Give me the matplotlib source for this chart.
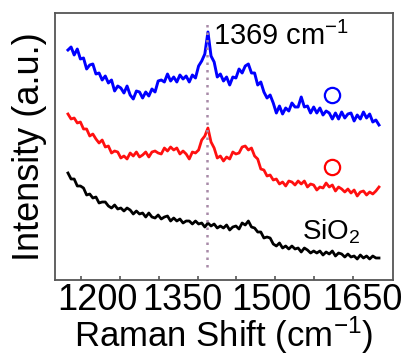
import numpy as np
import matplotlib
matplotlib.use("Agg")
import matplotlib.pyplot as plt
from matplotlib.transforms import ScaledTranslation

plt.rcParams['font.family'] = ['Liberation Sans', 'DejaVu Sans']
plt.rcParams['mathtext.fontset'] = 'custom'
plt.rcParams['mathtext.rm'] = 'Liberation Sans'
plt.rcParams['mathtext.it'] = 'Liberation Sans'
plt.rcParams['mathtext.default'] = 'regular'

# Raman shift sampling (cm-1)
shift = np.arange(1100, 1701, 6)

blue = [230, 233, 225, 231, 221, 222, 211, 215, 216, 206,
        207, 200, 204, 197, 200, 189, 194, 192, 187, 194,
        185, 181, 189, 188, 182, 188, 184, 191, 188, 199,
        200, 198, 206, 199, 203, 198, 205, 201, 204, 198,
        205, 202, 214, 219, 226, 248, 224, 218, 203, 206,
        199, 203, 195, 203, 202, 211, 207, 214, 216, 207,
        207, 195, 198, 188, 182, 185, 177, 167, 174, 166,
        172, 169, 177, 173, 173, 183, 173, 174, 167, 173,
        167, 172, 165, 169, 167, 161, 167, 161, 168, 162,
        166, 167, 159, 165, 161, 168, 162, 166, 158, 160,
        155]

red = [166, 161, 162, 157, 158, 151, 151, 144, 146, 141,
       137, 140, 133, 134, 127, 129, 128, 122, 124, 121,
       127, 124, 128, 123, 125, 128, 123, 128, 129, 127,
       126, 132, 129, 133, 130, 132, 126, 129, 126, 121,
       128, 127, 130, 140, 144, 152, 138, 132, 122, 124,
       119, 123, 121, 128, 126, 127, 133, 134, 130, 132,
       124, 121, 111, 110, 104, 105, 100, 101, 96, 98,
       94, 99, 98, 95, 99, 96, 99, 93, 96, 95,
       90, 93, 92, 97, 93, 95, 89, 93, 91, 88,
       91, 87, 90, 84, 88, 89, 85, 88, 86, 89,
       93]

black = [107, 101, 101, 94, 94, 92, 85, 86, 82, 83,
         77, 78, 78, 74, 72, 75, 71, 72, 69, 72,
         70, 66, 69, 66, 67, 63, 67, 63, 62, 65,
         61, 63, 64, 59, 62, 59, 61, 57, 59, 59,
         56, 59, 56, 57, 53, 57, 54, 56, 52, 54,
         52, 55, 50, 53, 54, 51, 57, 55, 59, 53,
         52, 48, 48, 42, 43, 42, 36, 34, 37, 32,
         34, 31, 34, 31, 32, 28, 32, 30, 27, 29,
         27, 29, 25, 28, 26, 29, 24, 27, 26, 23,
         26, 23, 24, 21, 25, 22, 24, 21, 24, 22,
         22]

peak_shift = 1369
circle_shift = [1609, 1609]
circle_intensity = [185, 113]
circle_colors = ['#0000ff', '#ff0000']

major_ticks = [1200, 1350, 1500, 1650]
minor_ticks = [1125, 1275, 1425, 1575]
tick_labels = ['1200', '1350', '1500', '1650']

fig = plt.figure(figsize=(4.06, 3.58), dpi=100)
ax = fig.add_axes([55/406, 1-280/358, (393-55)/406, (280-13)/358])

ax.plot(shift, blue, color='#0000ff', lw=2.1)
ax.plot(shift, red, color='#ff1010', lw=2.0)
ax.plot(shift, black, color='#000000', lw=2.0)

ax.axvline(peak_shift, ymin=0.05, ymax=0.965, color='#a88aa8', lw=1.8, ls=(0, (1, 2.0)))

for cx, cy, cc in zip(circle_shift, circle_intensity, circle_colors):
    ax.plot([cx], [cy], 'o', mfc='none', mec=cc, ms=11, mew=1.6)

ax.text(1380, 235, '1369 cm$^{-1}$', fontsize=21, ha='left', va='baseline')
ax.text(1551, 40, 'SiO$_{2}$', fontsize=20, ha='left', va='baseline')

ax.set_xlim(1075, 1727)
ax.set_ylim(0, 267)

ax.set_xticks(major_ticks)
ax.set_xticklabels(tick_labels)
ax.set_xticks(minor_ticks, minor=True)
ax.set_yticks([])
ax.tick_params(axis='x', which='both', direction='in', length=3, width=1.2,
               color='#555555', top=False, pad=2, labelsize=26)

for sp in ax.spines.values():
    sp.set_color('#555555')
    sp.set_linewidth(1.3)

ax.set_xlabel('Raman Shift (cm$^{-1}$)', fontsize=25, labelpad=-2)
ax.set_ylabel('Intensity (a.u.)', fontsize=26, labelpad=6)

offsets = [-22, -15, -4, 9]
for t, dx in zip(ax.xaxis.get_major_ticks(), offsets):
    t.label1.set_transform(t.label1.get_transform() + ScaledTranslation(dx/100, 0, fig.dpi_scale_trans))

fig.savefig('out.png', dpi=100)
